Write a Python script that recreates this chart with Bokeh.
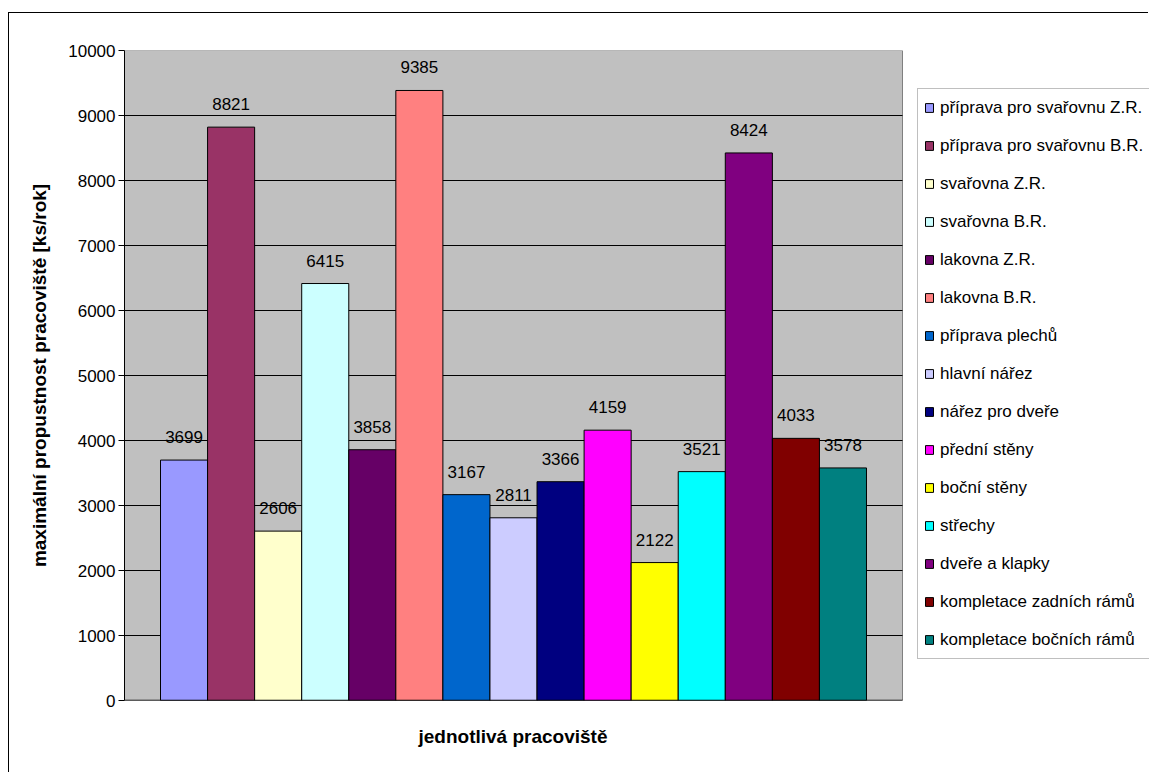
from bokeh.plotting import figure
from bokeh.models import (ColumnDataSource, Range1d, FixedTicker, Legend, LegendItem,
                          LabelSet, Title)
from bokeh.core.properties import value
from bokeh.embed import file_html
from bokeh.resources import INLINE

# ---- data ----
categories = [
    "příprava pro svařovnu Z.R.",
    "příprava pro svařovnu B.R.",
    "svařovna Z.R.",
    "svařovna B.R.",
    "lakovna Z.R.",
    "lakovna B.R.",
    "příprava plechů",
    "hlavní nářez",
    "nářez pro dveře",
    "přední stěny",
    "boční stěny",
    "střechy",
    "dveře a klapky",
    "kompletace zadních rámů",
    "kompletace bočních rámů",
]
values = [3699, 8821, 2606, 6415, 3858, 9385, 3167, 2811, 3366, 4159, 2122, 3521, 8424, 4033, 3578]
colors = ["#9999FF", "#993366", "#FFFFCC", "#CCFFFF", "#660066", "#FF8080", "#0066CC",
          "#CCCCFF", "#000080", "#FF00FF", "#FFFF00", "#00FFFF", "#800080", "#800000", "#008080"]
y_ticks = [0, 1000, 2000, 3000, 4000, 5000, 6000, 7000, 8000, 9000, 10000]
y_title = "maximální propustnost pracoviště [ks/rok]"
x_title = "jednotlivá pracoviště"

FONT = "Liberation Sans"
n = len(values)
src = ColumnDataSource(dict(x=list(range(n)), top=values, color=colors,
                            label=[str(v) for v in values], name=categories))

# layout: plot-area (grey) spans 778 px of a 1025 px frame; the rest holds the legend
W, H = 1140, 760
BL, BT, BB = 115, 37, 73
frame_w = W - BL
area_w = 778
gap = 0.765
x_lo = -0.5 - gap
x_hi = n - 0.5 + gap
x_end = x_lo + (x_hi - x_lo) * frame_w / area_w
y_lo, y_hi = y_ticks[0], y_ticks[-1]

p = figure(width=W, height=H, output_backend="svg", toolbar_location=None,
           x_range=Range1d(x_lo, x_end), y_range=Range1d(y_lo, y_hi),
           min_border_left=BL, min_border_right=0, min_border_top=BT, min_border_bottom=BB)
p.margin = (12, 0, 0, 8)
p.styles = {"border-left": "1px solid black", "border-top": "1px solid black"}
p.background_fill_color = "white"
p.border_fill_color = "white"
p.outline_line_color = None

# grey plot area, gridlines, category axis line
p.quad(left=[x_lo], right=[x_hi], bottom=[y_lo], top=[y_hi],
       fill_color="#C0C0C0", line_color="#808080", line_width=1)
grid_y = y_ticks[1:-1]
p.segment(x0=[x_lo] * len(grid_y), x1=[x_hi] * len(grid_y), y0=grid_y, y1=grid_y,
          line_color="black", line_width=1)

r = p.vbar(x="x", top="top", width=1.0, bottom=0, source=src,
           fill_color="color", line_color="black", line_width=1)

p.segment(x0=[x_lo], x1=[x_hi], y0=[y_lo], y1=[y_lo], line_color="black", line_width=1.5)

# axes
p.yaxis.ticker = FixedTicker(ticks=y_ticks)
p.yaxis.minor_tick_line_color = None
p.yaxis.major_tick_in = 0
p.yaxis.major_tick_out = 6
p.yaxis.major_label_standoff = 3
p.yaxis.major_label_text_font = FONT
p.yaxis.major_label_text_font_size = "17px"
p.yaxis.major_label_text_color = "black"
p.yaxis.axis_line_color = "black"
p.yaxis.major_tick_line_color = "black"
p.yaxis.axis_label = y_title
p.yaxis.axis_label_text_font = FONT
p.yaxis.axis_label_text_font_style = "bold"
p.yaxis.axis_label_text_font_size = "19px"
p.yaxis.axis_label_standoff = 15
p.yaxis.axis_label_text_color = "black"

p.xaxis.visible = False
p.xgrid.grid_line_color = None
p.ygrid.grid_line_color = None

# category-axis title under the grey plot area
xt = Title(text=x_title, align="left", offset=294,
           text_font=FONT, text_font_style="bold", text_font_size="19px",
           text_color="black", standoff=46)
p.add_layout(xt, "below")

# value labels
labels = LabelSet(x="x", y="top", text="label", source=src, text_align="center",
                  text_baseline="alphabetic", y_offset=17, text_font=value(FONT),
                  text_font_size=value("17px"), text_color="black")
p.add_layout(labels)

# legend
items = [LegendItem(label=categories[i], renderers=[r], index=i) for i in range(n)]
legend = Legend(items=items, location=(area_w + 15, 41), padding=6, spacing=13,
                label_height=25, glyph_height=11, glyph_width=10, label_standoff=6,
                label_text_font=FONT, label_text_font_size="17px", label_text_color="black",
                border_line_color="#808080", border_line_width=1,
                background_fill_color="white", background_fill_alpha=1.0, margin=0)
p.add_layout(legend)

open("out.html", "w").write(file_html(p, INLINE))
